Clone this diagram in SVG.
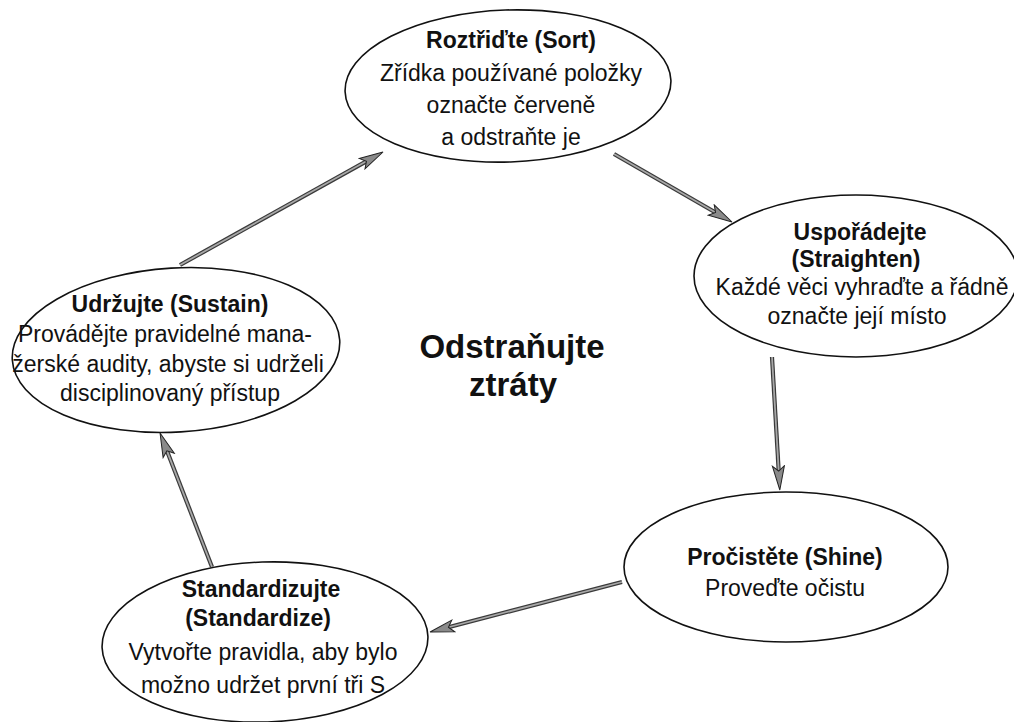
<svg xmlns="http://www.w3.org/2000/svg" width="1014" height="722" viewBox="0 0 1014 722">
  <style>
    .node ellipse { fill: #ffffff; stroke: #111111; stroke-width: 1.6; }
    .node text { font-family: "Liberation Sans", Arial, Helvetica, sans-serif; font-size: 23px; fill: #111111; text-anchor: middle; }
    .node text.title { font-weight: bold; }
    .shaft-outline { fill: none; stroke: #3a3a3a; stroke-width: 4.2; stroke-linecap: butt; }
    .shaft-core { fill: none; stroke: #a8a8a8; stroke-width: 1.8; stroke-linecap: butt; marker-end: url(#arrowhead); }
    .center-label { font-family: "Liberation Sans", Arial, Helvetica, sans-serif; font-size: 33px; font-weight: bold; fill: #111111; text-anchor: middle; }
  </style>
  <defs>
    <marker id="arrowhead" markerUnits="userSpaceOnUse" markerWidth="26" markerHeight="16" viewBox="0 0 26 16" refX="11" refY="8" orient="auto">
      <path d="M1,2 L25,8 L1,14 L6,8 Z" fill="#8a8a8a" stroke="#222222" stroke-width="1"/>
    </marker>
  </defs>

  <rect x="0" y="0" width="1014" height="722" fill="#ffffff"/>

  <!-- cycle arrows between the five steps -->
  <g id="connectors">
    <g id="sustain-to-sort">
      <path class="shaft-outline" d="M180,265 L370.8,158.8"/>
      <path class="shaft-core" d="M180,265 L370.8,158.8"/>
    </g>
    <g id="sort-to-straighten">
      <path class="shaft-outline" d="M614,154 L719.9,215"/>
      <path class="shaft-core" d="M614,154 L719.9,215"/>
    </g>
    <g id="straighten-to-shine">
      <path class="shaft-outline" d="M772,357 L779,476"/>
      <path class="shaft-core" d="M772,357 L779,476"/>
    </g>
    <g id="shine-to-standardize">
      <path class="shaft-outline" d="M622,582 L443.6,628.5"/>
      <path class="shaft-core" d="M622,582 L443.6,628.5"/>
    </g>
    <g id="standardize-to-sustain">
      <path class="shaft-outline" d="M212,567 L165.1,446.1"/>
      <path class="shaft-core" d="M212,567 L165.1,446.1"/>
    </g>
  </g>

  <!-- 1S: sort -->
  <g id="node-sort" class="node">
    <ellipse cx="508" cy="86" rx="163" ry="76" transform="rotate(-2 508 86)"/>
    <text class="title" x="511" y="48">Roztřiďte (Sort)</text>
    <text x="511" y="81">Zřídka používané položky</text>
    <text x="511" y="113">označte červeně</text>
    <text x="511" y="145">a odstraňte je</text>
  </g>

  <!-- 2S: straighten -->
  <g id="node-straighten" class="node">
    <ellipse cx="856" cy="276" rx="162" ry="81"/>
    <text class="title" x="860" y="240">Uspořádejte</text>
    <text class="title" x="856" y="267">(Straighten)</text>
    <text x="862" y="295">Každé věci vyhraďte a řádně</text>
    <text x="857" y="324">označte její místo</text>
  </g>

  <!-- 3S: shine -->
  <g id="node-shine" class="node">
    <ellipse cx="786" cy="567" rx="162" ry="75"/>
    <text class="title" x="785" y="565">Pročistěte (Shine)</text>
    <text x="785" y="596">Proveďte očistu</text>
  </g>

  <!-- 4S: standardize -->
  <g id="node-standardize" class="node">
    <ellipse cx="265" cy="642" rx="163" ry="80" transform="rotate(-2 265 642)"/>
    <text class="title" x="261" y="597">Standardizujte</text>
    <text class="title" x="258" y="626">(Standardize)</text>
    <text x="263" y="660">Vytvořte pravidla, aby bylo</text>
    <text x="263" y="693">možno udržet první tři S</text>
  </g>

  <!-- 5S: sustain -->
  <g id="node-sustain" class="node">
    <ellipse cx="176" cy="350" rx="164" ry="82" transform="rotate(-3.5 176 350)"/>
    <text class="title" x="170" y="312">Udržujte (Sustain)</text>
    <text x="165" y="342">Provádějte pravidelné mana-</text>
    <text x="168" y="372">žerské audity, abyste si udrželi</text>
    <text x="170" y="401">disciplinovaný přístup</text>
  </g>

  <!-- central goal -->
  <g id="center-goal">
    <text class="center-label" x="512" y="358">Odstraňujte</text>
    <text class="center-label" x="513" y="396">ztráty</text>
  </g>
</svg>
